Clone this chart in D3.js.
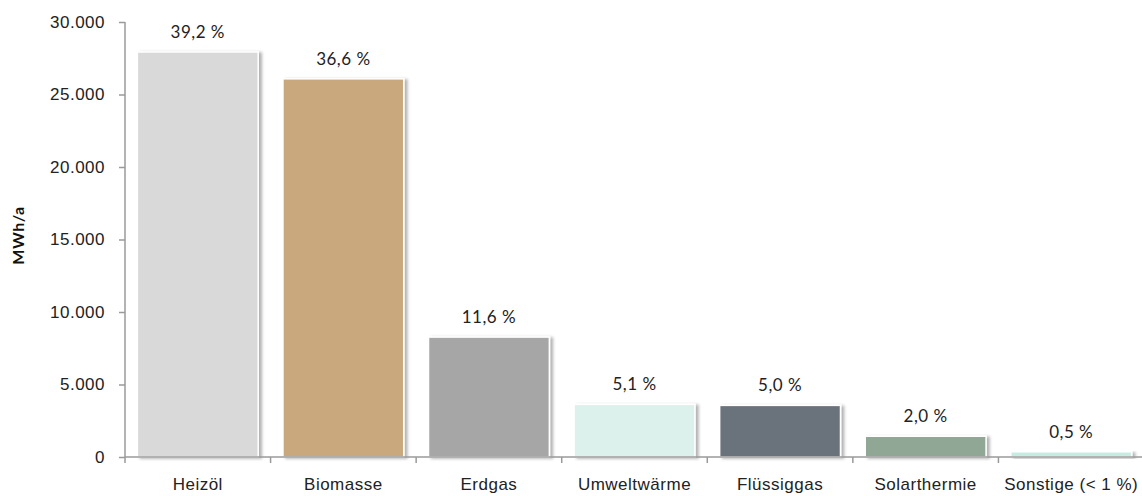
<!DOCTYPE html>
<html>
<head>
<meta charset="utf-8">
<script src="https://cdn.jsdelivr.net/npm/d3@7"></script>
<style>
  body { margin: 0; background: #fff; }
  svg { font-family: Lato, "Open Sans", sans-serif; }
  .axis path, .axis line { stroke: #9a9a9a; stroke-width: 1.5; }
  .axis text { font-size: 17px; fill: #222; letter-spacing: 0.5px; }
  .val { font-size: 17px; fill: #222; letter-spacing: 0.5px; }
</style>
</head>
<body>
<svg id="chart" width="1142" height="496"></svg>
<script>
var categories = ["Heizöl", "Biomasse", "Erdgas", "Umweltwärme", "Flüssiggas", "Solarthermie", "Sonstige (< 1 %)"];
var values = [27930, 26080, 8270, 3630, 3560, 1430, 360];
var shares = ["39,2 %", "36,6 %", "11,6 %", "5,1 %", "5,0 %", "2,0 %", "0,5 %"];
var colors = ["#d9d9d9", "#c8a87c", "#a6a6a6", "#dcf0ec", "#6b727c", "#8fa794", "#c6ebe1"];
var yTicks = [0, 5000, 10000, 15000, 20000, 25000, 30000];

var svg = d3.select("#chart"),
    margin = {top: 22, right: -2, bottom: 39, left: 125},
    width = 1142 - margin.left - margin.right,
    height = 496 - margin.top - margin.bottom;

var de = d3.formatLocale({decimal: ",", thousands: ".", grouping: [3], currency: ["", " €"]});

var x = d3.scaleBand().domain(categories).range([0, width]).paddingInner(0.17).paddingOuter(0.085);
var y = d3.scaleLinear().domain([0, 30000]).range([height, 0]);

var defs = svg.append("defs");
var f = defs.append("filter").attr("id", "shadow").attr("x", "-10%").attr("y", "-10%").attr("width", "130%").attr("height", "130%");
f.append("feDropShadow").attr("dx", 3).attr("dy", 1).attr("stdDeviation", 1.5).attr("flood-color", "#000").attr("flood-opacity", 0.3);

var g = svg.append("g").attr("transform", "translate(" + margin.left + "," + margin.top + ")");

// y axis
g.append("g")
    .attr("class", "axis axis--y")
    .call(d3.axisLeft(y).tickValues(yTicks).tickSize(6).tickPadding(14).tickFormat(de.format(",d")))
    .call(function(a) { a.select(".domain").attr("d", "M0," + y(30000) + "V" + height); });

svg.append("text")
    .attr("transform", "translate(24," + (margin.top + height / 2 - 4) + ") rotate(-90)")
    .attr("text-anchor", "middle")
    .style("font-size", "16px")
    .style("font-weight", "bold")
    .style("letter-spacing", "0.5px")
    .style("fill", "#111")
    .text("MWh/a");

// bars
g.selectAll(".bar")
    .data(categories)
    .enter().append("rect")
      .attr("class", "bar")
      .attr("x", function(d) { return x(d); })
      .attr("y", function(d, i) { return y(values[i]); })
      .attr("width", x.bandwidth())
      .attr("height", function(d, i) { return height - y(values[i]); })
      .attr("fill", function(d, i) { return colors[i]; })
      .attr("stroke", "#fff")
      .attr("stroke-width", 1.5)
      .attr("filter", "url(#shadow)");

g.selectAll(".val")
    .data(categories)
    .enter().append("text")
      .attr("class", "val")
      .attr("x", function(d) { return x(d) + x.bandwidth() / 2; })
      .attr("y", function(d, i) { return y(values[i]) - 14; })
      .attr("text-anchor", "middle")
      .text(function(d, i) { return shares[i]; });

// x axis
var xa = g.append("g")
    .attr("class", "axis axis--x")
    .attr("transform", "translate(0," + height + ")")
    .call(d3.axisBottom(x).tickSize(0).tickPadding(21));
xa.select(".domain").attr("d", "M0,0H" + width);

var step = x.step();
xa.selectAll(".bound")
    .data(d3.range(categories.length + 1))
    .enter().append("line")
      .attr("class", "bound")
      .attr("x1", function(i) { return i * step; })
      .attr("x2", function(i) { return i * step; })
      .attr("y1", 0)
      .attr("y2", 6);
</script>
</body>
</html>
